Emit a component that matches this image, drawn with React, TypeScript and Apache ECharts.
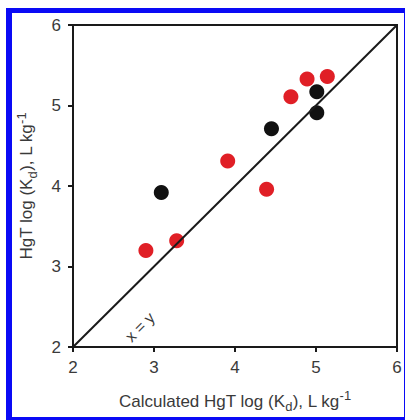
import React, { useEffect, useRef } from "react";
import * as echarts from "echarts";

const blackPoints: [number, number][] = [
  [3.09, 3.92],
  [4.45, 4.71],
  [5.01, 5.17],
  [5.01, 4.91],
];
const redPoints: [number, number][] = [
  [2.9, 3.2],
  [3.28, 3.32],
  [3.91, 4.31],
  [4.39, 3.96],
  [4.69, 5.11],
  [4.89, 5.33],
  [5.14, 5.36],
];
const identityLine: [number, number][] = [
  [2, 2],
  [6, 6],
];
const axisMin = 2;
const axisMax = 6;
const axisStep = 1;
const xTitle = "{n|Calculated HgT log (K}{sub|d}{n|), L kg}{sup|-1}";
const yTitle = "{n|HgT log (K}{sub|d}{n|), L kg}{sup|-1}";
const lineLabel = "x = y";

const FONT = "'Liberation Sans', Arial, sans-serif";
const TEXT = "#3a3a3a";
const AXIS = "#1a1a1a";

const rich = {
  n: { fontSize: 17, color: TEXT, fontFamily: FONT, lineHeight: 24, verticalAlign: "middle" as const },
  sub: { fontSize: 13, color: TEXT, fontFamily: FONT, lineHeight: 24, verticalAlign: "bottom" as const, padding: [8, 0, 0, 0] },
  sup: { fontSize: 13, color: TEXT, fontFamily: FONT, lineHeight: 24, verticalAlign: "top" as const, padding: [0, 0, 13, 0] },
};

export default function App() {
  const ref = useRef<HTMLDivElement>(null);
  useEffect(() => {
    document.body.style.margin = "0";
    const chart = echarts.init(ref.current!, null, { renderer: "svg" });
    const axisCommon = {
      type: "value" as const,
      min: axisMin,
      max: axisMax,
      interval: axisStep,
      nameLocation: "middle" as const,
      axisLine: { show: true, lineStyle: { color: AXIS, width: 2 } },
      axisTick: { show: true, inside: false, length: 5, lineStyle: { color: AXIS, width: 2 } },
      axisLabel: { fontSize: 17, color: TEXT, fontFamily: FONT, margin: 12 },
      splitLine: { show: false },
      nameTextStyle: { rich },
    };
    chart.setOption({
      animation: false,
      backgroundColor: "transparent",
      grid: {
        left: 73,
        top: 25,
        right: 8,
        bottom: 71,
        show: true,
        borderColor: AXIS,
        borderWidth: 2,
        backgroundColor: "transparent",
      },
      xAxis: { ...axisCommon, name: xTitle, nameGap: 42 },
      yAxis: { ...axisCommon, name: yTitle, nameGap: 32, nameRotate: 90 },
      graphic: [
        {
          type: "text",
          x: 140,
          y: 327,
          rotation: Math.PI / 4,
          style: {
            text: lineLabel,
            fontSize: 16,
            fontFamily: FONT,
            fill: TEXT,
            align: "center",
            verticalAlign: "middle",
          },
        },
      ],
      series: [
        {
          type: "line",
          data: identityLine,
          symbol: "none",
          lineStyle: { color: AXIS, width: 2 },
          silent: true,
        },
        {
          type: "scatter",
          data: redPoints,
          symbolSize: 15,
          itemStyle: { color: "#e01f26", opacity: 1 },
        },
        {
          type: "scatter",
          data: blackPoints,
          symbolSize: 15,
          itemStyle: { color: "#111111", opacity: 1 },
        },
      ],
    });
    return () => chart.dispose();
  }, []);
  return (
    <div style={{ position: "fixed", left: 0, top: 0, width: 405, height: 420, background: "#fff", overflow: "hidden" }}>
      <div
        style={{
          position: "absolute",
          left: 6,
          top: 8,
          width: 392,
          height: 404,
          borderStyle: "solid",
          borderColor: "#0a0af5",
          borderWidth: "5px 6px 6px 6px",
        }}
      />
      <div ref={ref} style={{ position: "absolute", left: 0, top: 0, width: 405, height: 420 }} />
    </div>
  );
}
